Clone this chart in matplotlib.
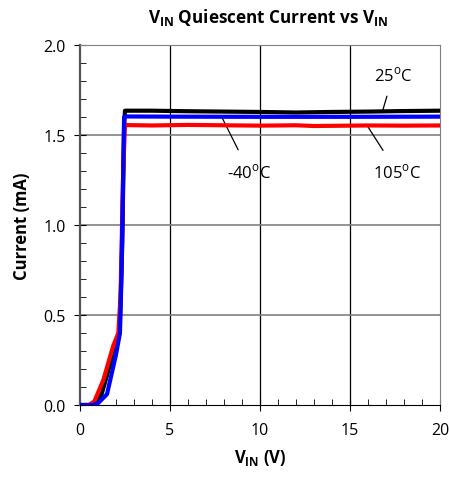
import matplotlib
matplotlib.use("Agg")
import matplotlib.pyplot as plt
from matplotlib.ticker import MultipleLocator, FormatStrFormatter

plt.rcParams['font.family'] = ['Open Sans', 'DejaVu Sans']
plt.rcParams['mathtext.fontset'] = 'custom'
plt.rcParams['mathtext.rm'] = 'Open Sans'
plt.rcParams['mathtext.bf'] = 'Open Sans:bold'

# supply current vs input voltage at three temperatures
vin_25 = [0, 0.5, 0.8, 1.2, 1.6, 2.0, 2.2, 2.35, 2.45, 2.5, 4, 6, 8, 10, 12, 14, 16, 18, 20]
i_25 = [0, 0, 0.01, 0.06, 0.2, 0.33, 0.40, 0.9, 1.55, 1.635, 1.635, 1.632, 1.63, 1.628, 1.625, 1.628, 1.63, 1.633, 1.635]

vin_m40 = [0, 0.7, 1.0, 1.5, 2.0, 2.22, 2.3, 2.4, 2.45, 2.5, 5, 10, 15, 20]
i_m40 = [0, 0, 0.01, 0.06, 0.28, 0.40, 0.7, 1.3, 1.6, 1.603, 1.602, 1.601, 1.601, 1.602]

vin_105 = [0, 0.5, 0.8, 1.3, 1.85, 2.13, 2.25, 2.4, 2.5, 2.6, 4, 6, 8, 10, 12, 13, 16, 18, 20]
i_105 = [0, 0, 0.02, 0.14, 0.33, 0.40, 0.6, 1.3, 1.56, 1.555, 1.553, 1.556, 1.554, 1.552, 1.554, 1.55, 1.553, 1.552, 1.553]

fig = plt.figure(figsize=(4.49, 4.81), dpi=100)
ax = fig.add_axes([80/449, 1 - 406/481, 360/449, 360/481])

ax.plot(vin_25, i_25, color='black', lw=3, zorder=3)
ax.plot(vin_105, i_105, color='#ff0000', lw=3, zorder=4)
ax.plot(vin_m40, i_m40, color='#0000ff', lw=3, zorder=5)

ax.set_xlim(0, 20)
ax.set_ylim(0, 2.0)
ax.xaxis.set_major_locator(MultipleLocator(5))
ax.xaxis.set_minor_locator(MultipleLocator(1))
ax.yaxis.set_major_locator(MultipleLocator(0.5))
ax.yaxis.set_minor_locator(MultipleLocator(0.1))
ax.yaxis.set_major_formatter(FormatStrFormatter('%.1f'))

for x in [5, 10, 15]:
    ax.axvline(x, color='black', lw=0.9, zorder=1)
for y in [0.5, 1.0, 1.5]:
    ax.axhline(y, color='#808080', lw=1.2, zorder=1)

ax.spines['top'].set_color('#808080')
ax.spines['right'].set_color('#808080')
ax.spines['left'].set_color('#555555')
ax.spines['left'].set_linewidth(1.6)
ax.spines['bottom'].set_color('black')
ax.tick_params(which='major', direction='inout', length=8, labelsize=11.5)
ax.tick_params(axis='x', which='major', pad=8)
ax.tick_params(axis='y', which='major', pad=6)
ax.tick_params(which='minor', direction='in', length=4)

ax.set_xlabel(r'$\mathbf{V_{IN}}$ (V)', fontsize=12, fontweight='bold', labelpad=7)
ax.set_ylabel('Current (mA)', fontsize=12, fontweight='bold', labelpad=9)
fig.text(268/449, 1 - 17/481, r'$\mathbf{V_{IN}}$ Quiescent Current vs $\mathbf{V_{IN}}$',
         ha='center', va='center', fontsize=12.3, fontweight='bold')

deg = r'$^{\mathrm{o}}$'
arrow = dict(arrowstyle='-', color='black', lw=0.9, shrinkB=0)
ax.annotate('25' + deg + 'C', xy=(16.8, 1.63), xytext=(17.4, 1.835), ha='center', va='center',
            fontsize=12, arrowprops=dict(arrow, shrinkA=7))
ax.annotate('-40' + deg + 'C', xy=(7.9, 1.595), xytext=(9.4, 1.295), ha='center', va='center',
            fontsize=12, arrowprops=dict(arrow, shrinkA=8))
ax.annotate('105' + deg + 'C', xy=(16.0, 1.545), xytext=(17.6, 1.295), ha='center', va='center',
            fontsize=12, arrowprops=dict(arrow, shrinkA=8))

fig.savefig('out.png', dpi=100)
